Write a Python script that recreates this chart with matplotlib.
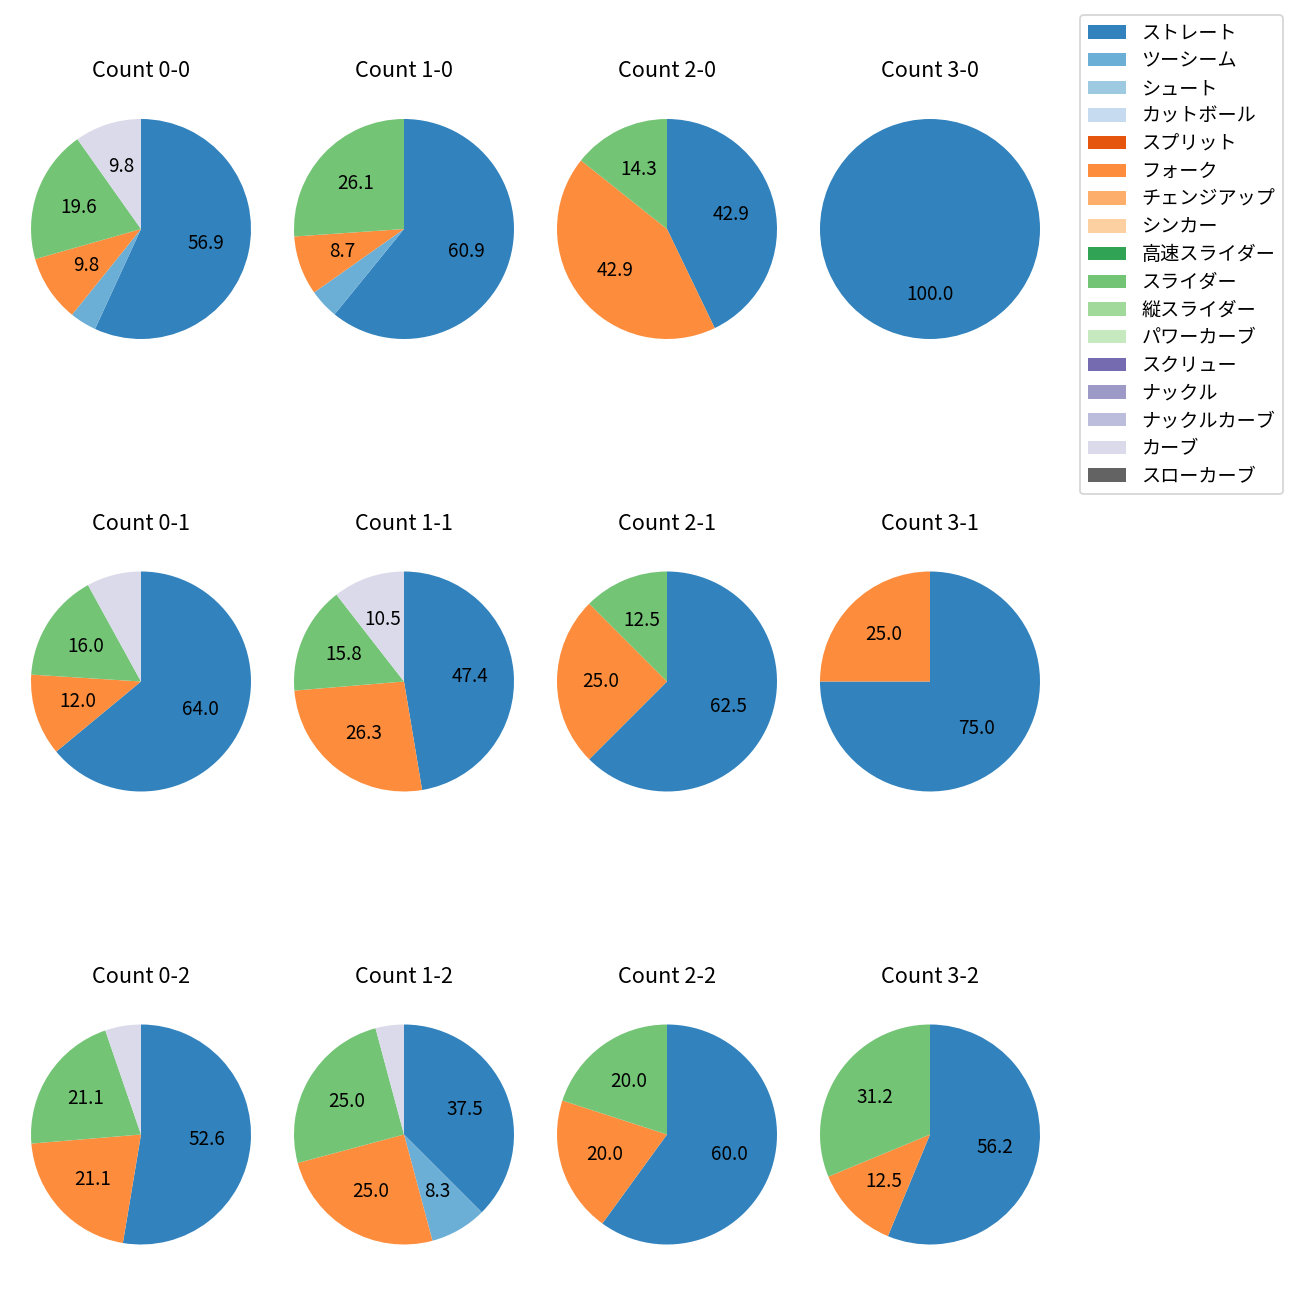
import matplotlib
matplotlib.use("Agg")
import matplotlib.pyplot as plt
from matplotlib.patches import Patch
import numpy as np

plt.rcParams['font.family'] = ['Noto Sans CJK JP', 'DejaVu Sans']

pitch_types = ["ストレート", "ツーシーム", "シュート", "カットボール", "スプリット", "フォーク",
               "チェンジアップ", "シンカー", "高速スライダー", "スライダー", "縦スライダー",
               "パワーカーブ", "スクリュー", "ナックル", "ナックルカーブ", "カーブ", "スローカーブ"]

# counts per pitch type (same order as pitch_types)
count_labels = ["0-0", "1-0", "2-0", "3-0",
                "0-1", "1-1", "2-1", "3-1",
                "0-2", "1-2", "2-2", "3-2"]
#            St Tw Sh Ct Sp Fk Ch Sk HS Sl VS PC Sc Kn KC Cv SC
c_0_0 = [29, 2, 0, 0, 0, 5, 0, 0, 0, 10, 0, 0, 0, 0, 0, 5, 0]
c_1_0 = [14, 1, 0, 0, 0, 2, 0, 0, 0, 6, 0, 0, 0, 0, 0, 0, 0]
c_2_0 = [3, 0, 0, 0, 0, 3, 0, 0, 0, 1, 0, 0, 0, 0, 0, 0, 0]
c_3_0 = [1, 0, 0, 0, 0, 0, 0, 0, 0, 0, 0, 0, 0, 0, 0, 0, 0]
c_0_1 = [16, 0, 0, 0, 0, 3, 0, 0, 0, 4, 0, 0, 0, 0, 0, 2, 0]
c_1_1 = [9, 0, 0, 0, 0, 5, 0, 0, 0, 3, 0, 0, 0, 0, 0, 2, 0]
c_2_1 = [5, 0, 0, 0, 0, 2, 0, 0, 0, 1, 0, 0, 0, 0, 0, 0, 0]
c_3_1 = [3, 0, 0, 0, 0, 1, 0, 0, 0, 0, 0, 0, 0, 0, 0, 0, 0]
c_0_2 = [10, 0, 0, 0, 0, 4, 0, 0, 0, 4, 0, 0, 0, 0, 0, 1, 0]
c_1_2 = [9, 2, 0, 0, 0, 6, 0, 0, 0, 6, 0, 0, 0, 0, 0, 1, 0]
c_2_2 = [3, 0, 0, 0, 0, 1, 0, 0, 0, 1, 0, 0, 0, 0, 0, 0, 0]
c_3_2 = [9, 0, 0, 0, 0, 2, 0, 0, 0, 5, 0, 0, 0, 0, 0, 0, 0]
all_counts = [c_0_0, c_1_0, c_2_0, c_3_0, c_0_1, c_1_1, c_2_1, c_3_1,
              c_0_2, c_1_2, c_2_2, c_3_2]

cmap = plt.get_cmap('tab20c')
colors = [cmap(i) for i in range(16)] + [cmap(16)]

W = H = 1300
fig = plt.figure(figsize=(10, 10), dpi=130)

col_x = [141, 404, 667, 930]
row_y = [229, 681.5, 1134.5]
R = 110
S = 264
lim = S / (2 * R)

def fmt(p):
    return f"{p:.1f}" if p > 8.0 else ""

for i, (lab, vals) in enumerate(zip(count_labels, all_counts)):
    r, c = divmod(i, 4)
    cx, cy = col_x[c], row_y[r]
    ax = fig.add_axes([(cx - S / 2) / W, 1 - (cy + S / 2) / H, S / W, S / H])
    v = [x for x in vals if x > 0]
    cols = [colors[k] for k, x in enumerate(vals) if x > 0]
    ax.pie(v, colors=cols, startangle=90, counterclock=False, autopct=fmt,
           pctdistance=0.6, textprops={'fontsize': 10.5})
    ax.set_xlim(-lim, lim)
    ax.set_ylim(-lim, lim)
    ax.set_aspect('equal')
    ax.set_title(f"Count {lab}", fontsize=12, pad=11)

handles = [Patch(facecolor=colors[k], label=pitch_types[k]) for k in range(len(pitch_types))]
fig.legend(handles=handles, loc='upper right', bbox_to_anchor=(1283 / W, 1 - 15 / H),
           borderaxespad=0, fontsize=10.6, labelspacing=0.35)

fig.savefig("out.png", dpi=130)
